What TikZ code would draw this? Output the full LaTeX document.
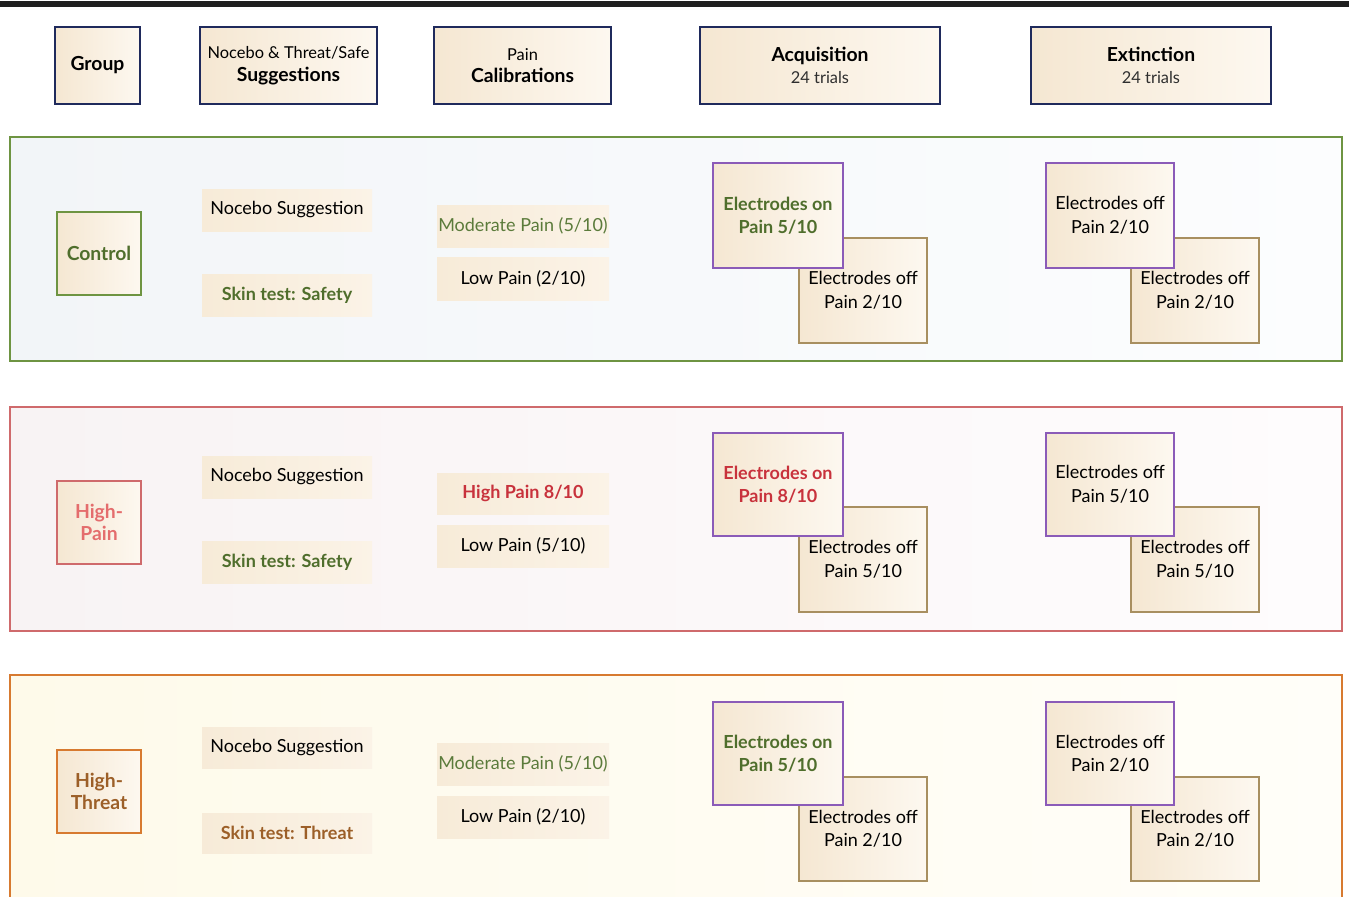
\documentclass[tikz,border=0pt]{standalone}
\usepackage{fontspec}
\setmainfont{Lato}
\definecolor{navy}{HTML}{1F2A5C}
\definecolor{hdrL}{HTML}{F5E7D2}
\definecolor{hdrR}{HTML}{FDF8F0}
\definecolor{sugL}{HTML}{F7EBD8}
\definecolor{sugR}{HTML}{FBF3E7}
\definecolor{greenB}{HTML}{6E9442}
\definecolor{greenT}{HTML}{4F6E2C}
\definecolor{redB}{HTML}{CF6A6C}
\definecolor{redT}{HTML}{E46D6D}
\definecolor{redS}{HTML}{C8323C}
\definecolor{orB}{HTML}{D77A30}
\definecolor{orT}{HTML}{9C5F28}
\definecolor{purp}{HTML}{8B5BB8}
\definecolor{tan}{HTML}{A88F60}
\definecolor{olive}{HTML}{5B7B3B}
\definecolor{grayT}{HTML}{2E2E2E}
\definecolor{p1L}{HTML}{F2F5F8}
\definecolor{p1R}{HTML}{FCFDFE}
\definecolor{p2L}{HTML}{F8F3F4}
\definecolor{p2R}{HTML}{FEFCFD}
\definecolor{p3L}{HTML}{FEFAEA}
\definecolor{p3R}{HTML}{FFFEF9}
\newcommand\mybox[7]{\node[#2, minimum width={(#5-#3)*0.75pt}, minimum height={(#6-#4)*0.75pt}] (#1) at ({(#3+#5)/2},{(#4+#6)/2}) {#7};}
\newcommand\fbody{\fontsize{13.5}{17.6}\selectfont}
\newcommand\fbig{\fontsize{14.5}{17}\selectfont\bfseries}
\newcommand\fsmall{\fontsize{12.3}{14}\selectfont}
\begin{document}
\begin{tikzpicture}[x=0.75pt,y=-0.75pt,
  every node/.style={inner sep=0pt, outer sep=0pt, rectangle},
  hdr/.style={draw=navy, line width=2.2pt, left color=hdrL, right color=hdrR, align=center, text=black},
  panel/.style={line width=2.2pt},
  grp/.style={line width=2.2pt, left color=hdrL, right color=hdrR, align=center, font=\fbig},
  sug/.style={left color=sugL, right color=sugR, align=center, font=\fbody},
  eon/.style={draw=purp, line width=1.4pt, left color=hdrL, right color=hdrR, align=center, font=\fbody},
  eoff/.style={draw=tan, line width=1.4pt, left color=hdrL, right color=hdrR, align=center, font=\fbody}
]
\useasboundingbox (0,0) rectangle (1349,896);
\clip (0,0) rectangle (1349,896);
\fill[white] (0,0) rectangle (1349,896);
% top bar
\coordinate (barL) at (0,4);
\coordinate (barR) at (1349,4);
\draw[line width=4.8pt, color=black!88] (barL) -- (barR);

% headers
\mybox{hgroup}{hdr}{55}{27}{140}{104}{\fbig Group}
\mybox{hsug}{hdr}{200}{27}{377}{104}{\fsmall Nocebo \& Threat/Safe\\[5pt]\fbig Suggestions}
\mybox{hpain}{hdr}{434}{27}{611}{104}{\fsmall Pain\\[5pt]\fbig Calibrations}
\mybox{hacq}{hdr}{700}{27}{940}{104}{\fbig Acquisition\\[4pt]\fsmall\color{grayT}24 trials}
\mybox{hext}{hdr}{1031}{27}{1271}{104}{\fbig Extinction\\[4pt]\fsmall\color{grayT}24 trials}

% ---------- panel 1 : Control ----------
\mybox{p1}{panel, draw=greenB, left color=p1L, right color=p1R}{10}{137}{1342}{361}{}
\mybox{g1}{grp, draw=greenB, text=greenT}{57}{212}{141}{295}{Control}
\mybox{s1a}{sug}{202}{189}{372}{231}{Nocebo Suggestion}
\mybox{s1b}{sug, font=\fbody\bfseries, text=greenT}{202}{274}{372}{316}{Skin test: Safety}
\mybox{c1a}{sug, text=olive}{437}{205}{609}{247}{Moderate Pain (5/10)}
\mybox{c1b}{sug}{437}{257}{609}{300}{Low Pain (2/10)}
\mybox{a1off}{eoff}{799}{238}{927}{343}{Electrodes off\\Pain 2/10}
\mybox{a1on}{eon, font=\fbody\bfseries, text=greenT}{713}{163}{843}{268}{Electrodes on\\Pain 5/10}
\mybox{e1b}{eoff}{1131}{238}{1259}{343}{Electrodes off\\Pain 2/10}
\mybox{e1a}{eon}{1046}{163}{1174}{268}{Electrodes off\\Pain 2/10}

% ---------- panel 2 : High-Pain ----------
\mybox{p2}{panel, draw=redB, left color=p2L, right color=p2R}{10}{407}{1342}{631}{}
\mybox{g2}{grp, draw=redB, text=redT}{57}{481}{141}{564}{High-\\Pain}
\mybox{s2a}{sug}{202}{456}{372}{498}{Nocebo Suggestion}
\mybox{s2b}{sug, font=\fbody\bfseries, text=greenT}{202}{541}{372}{583}{Skin test: Safety}
\mybox{c2a}{sug, font=\fbody\bfseries, text=redS}{437}{473}{609}{514}{High Pain 8/10}
\mybox{c2b}{sug}{437}{525}{609}{567}{Low Pain (5/10)}
\mybox{a2off}{eoff}{799}{507}{927}{612}{Electrodes off\\Pain 5/10}
\mybox{a2on}{eon, font=\fbody\bfseries, text=redS}{713}{433}{843}{536}{Electrodes on\\Pain 8/10}
\mybox{e2b}{eoff}{1131}{507}{1259}{612}{Electrodes off\\Pain 5/10}
\mybox{e2a}{eon}{1046}{433}{1174}{536}{Electrodes off\\Pain 5/10}

% ---------- panel 3 : High-Threat ----------
\mybox{p3}{panel, draw=orB, left color=p3L, right color=p3R}{10}{675}{1342}{910}{}
\mybox{g3}{grp, draw=orB, text=orT}{57}{750}{141}{833}{High-\\Threat}
\mybox{s3a}{sug}{202}{727}{372}{768}{Nocebo Suggestion}
\mybox{s3b}{sug, font=\fbody\bfseries, text=orT}{202}{813}{372}{853}{Skin test: Threat}
\mybox{c3a}{sug, text=olive}{437}{743}{609}{785}{Moderate Pain (5/10)}
\mybox{c3b}{sug}{437}{796}{609}{838}{Low Pain (2/10)}
\mybox{a3off}{eoff}{799}{777}{927}{881}{Electrodes off\\Pain 2/10}
\mybox{a3on}{eon, font=\fbody\bfseries, text=greenT}{713}{702}{843}{805}{Electrodes on\\Pain 5/10}
\mybox{e3b}{eoff}{1131}{777}{1259}{881}{Electrodes off\\Pain 2/10}
\mybox{e3a}{eon}{1046}{702}{1174}{805}{Electrodes off\\Pain 2/10}
\end{tikzpicture}
\end{document}
